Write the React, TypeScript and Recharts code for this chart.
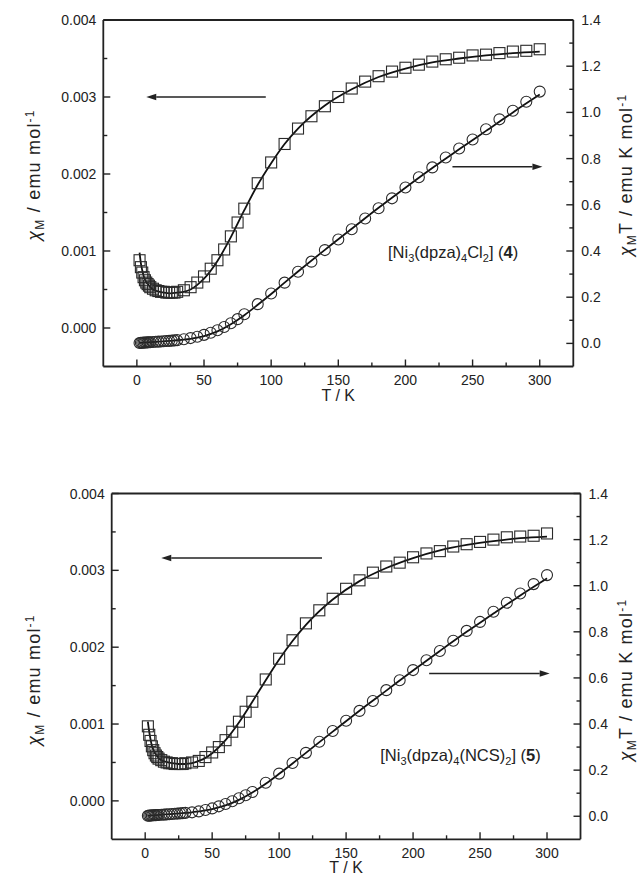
import React from "react";
import {
  ComposedChart,
  Scatter,
  Line,
  XAxis,
  YAxis,
  ReferenceLine,
  ReferenceDot,
  Label,
} from "recharts";

// measured temperatures (K)
const temps = [
  2, 3, 4, 5, 6, 7, 8, 9, 10, 12, 14, 16, 18, 20, 22, 24, 26, 28, 30,
  35, 40, 45, 50, 55, 60, 65, 70, 75, 80,
  90, 100, 110, 120, 130, 140, 150, 160, 170, 180, 190, 200, 210, 220, 230, 240, 250, 260, 270, 280, 290, 300,
];

// compound 4
const chi4 = [
  0.00088, 0.00079, 0.00072, 0.00066, 0.00062, 0.00059, 0.00057, 0.00055, 0.00053, 0.00051, 0.00049, 0.00048, 0.00047, 0.00047, 0.00046, 0.00046, 0.00046, 0.00046, 0.00047,
  0.00049, 0.00053, 0.00059, 0.00067, 0.00077, 0.00088, 0.00102, 0.00119, 0.00137, 0.00155,
  0.00188, 0.00215, 0.00239, 0.00259, 0.00275, 0.00288, 0.003, 0.00311, 0.0032, 0.00327, 0.00333, 0.00338, 0.00342, 0.00346, 0.00349, 0.00351, 0.00354, 0.00355, 0.00357, 0.00359, 0.0036, 0.00362,
];
const chiT4 = [
  0.0018, 0.0024, 0.0029, 0.0033, 0.0037, 0.0041, 0.0046, 0.005, 0.0053, 0.0061, 0.0069, 0.0077, 0.0085, 0.0094, 0.0101, 0.011, 0.012, 0.0129, 0.014,
  0.018, 0.023, 0.029, 0.037, 0.046, 0.057, 0.071, 0.087, 0.105, 0.126,
  0.17, 0.216, 0.263, 0.31, 0.354, 0.404, 0.45, 0.494, 0.541, 0.585, 0.628, 0.675, 0.719, 0.762, 0.805, 0.844, 0.883, 0.927, 0.97, 1.007, 1.046, 1.09,
];

// compound 5
const chi5 = [
  0.00097, 0.00086, 0.00078, 0.00071, 0.00066, 0.00062, 0.00059, 0.00057, 0.00055, 0.00053, 0.00051, 0.0005, 0.00049, 0.00049, 0.00048, 0.00048, 0.00048, 0.00048, 0.00049,
  0.0005, 0.00052, 0.00057, 0.00063, 0.0007, 0.00079, 0.0009, 0.00103, 0.00116, 0.00129,
  0.00158, 0.00185, 0.00209, 0.00231, 0.00248, 0.00263, 0.00276, 0.00287, 0.00297, 0.00305, 0.0031, 0.00317, 0.00322, 0.00325, 0.00331, 0.00334, 0.00337, 0.0034, 0.00343, 0.00344, 0.00345, 0.00348,
];
const chiT5 = [
  0.0019, 0.0026, 0.0031, 0.0036, 0.004, 0.0043, 0.0047, 0.0051, 0.0055, 0.0064, 0.0071, 0.008, 0.0088, 0.0098, 0.0106, 0.0115, 0.0125, 0.0134, 0.0147,
  0.017, 0.021, 0.027, 0.034, 0.043, 0.053, 0.065, 0.078, 0.091, 0.105,
  0.145, 0.185, 0.231, 0.275, 0.323, 0.37, 0.414, 0.457, 0.5, 0.547, 0.59, 0.634, 0.677, 0.717, 0.761, 0.804, 0.843, 0.887, 0.926, 0.966, 1.007, 1.046,
];

// fitted curves
const fitTemps = [2, 3, 4, 5, 6, 8, 10, 12, 15, 20, 25, 30, 35, 40, 45, 50, 60, 70, 80, 90, 100, 110, 120, 140, 160, 180, 200, 220, 240, 260, 280, 300];
const chiFit4 = [
  0.00098, 0.00084, 0.00075, 0.00068, 0.00063, 0.00057, 0.00053, 0.0005, 0.00048, 0.00046, 0.00045, 0.00046, 0.00047, 0.0005, 0.00056, 0.00064,
  0.00087, 0.00118, 0.00153, 0.00186, 0.00214, 0.00239, 0.00259, 0.00289, 0.0031, 0.00326, 0.00337, 0.00345, 0.0035, 0.00354, 0.00357, 0.00359,
];
const chiTFit4 = [
  0.0019, 0.0025, 0.003, 0.0034, 0.0038, 0.0046, 0.0053, 0.006, 0.0072, 0.0092, 0.0113, 0.0138, 0.0165, 0.02, 0.025, 0.032,
  0.052, 0.083, 0.122, 0.167, 0.214, 0.263, 0.311, 0.405, 0.496, 0.587, 0.674, 0.759, 0.84, 0.92, 1.0, 1.077,
];
const chiFit5 = [
  0.00103, 0.0009, 0.0008, 0.00072, 0.00067, 0.0006, 0.00056, 0.00053, 0.00051, 0.00049, 0.00048, 0.00048, 0.00049, 0.00052, 0.00056, 0.00062,
  0.00079, 0.00102, 0.00129, 0.00157, 0.00184, 0.00208, 0.00229, 0.00262, 0.00286, 0.00303, 0.00316, 0.00326, 0.00333, 0.00338, 0.00342, 0.00344,
];
const chiTFit5 = [
  0.0021, 0.0027, 0.0032, 0.0036, 0.004, 0.0048, 0.0056, 0.0064, 0.0077, 0.0098, 0.012, 0.0144, 0.017, 0.021, 0.025, 0.031,
  0.047, 0.071, 0.103, 0.141, 0.184, 0.229, 0.275, 0.367, 0.458, 0.545, 0.632, 0.717, 0.8, 0.879, 0.958, 1.032,
];

const tTicks = [0, 25, 50, 75, 100, 125, 150, 175, 200, 225, 250, 275, 300];
const chiTicks = [0, 0.0005, 0.001, 0.0015, 0.002, 0.0025, 0.003, 0.0035, 0.004];
const chiTTicks = [0, 0.1, 0.2, 0.3, 0.4, 0.5, 0.6, 0.7, 0.8, 0.9, 1.0, 1.1, 1.2, 1.3, 1.4];

// rich text pieces (sub = subscript, sup = superscript)
type Seg = { t: string; sub?: boolean; sup?: boolean; it?: boolean; b?: boolean };
const leftTitle: Seg[] = [{ t: "χ", it: true }, { t: "M", sub: true }, { t: " / emu mol" }, { t: "-1", sup: true }];
const rightTitle: Seg[] = [{ t: "χ", it: true }, { t: "M", sub: true }, { t: "T / emu K mol" }, { t: "-1", sup: true }];
const note4: Seg[] = [
  { t: "[Ni" }, { t: "3", sub: true }, { t: "(dpza)" }, { t: "4", sub: true }, { t: "Cl" }, { t: "2", sub: true },
  { t: "] (" }, { t: "4", b: true }, { t: ")" },
];
const note5: Seg[] = [
  { t: "[Ni" }, { t: "3", sub: true }, { t: "(dpza)" }, { t: "4", sub: true }, { t: "(NCS)" }, { t: "2", sub: true },
  { t: "] (" }, { t: "5", b: true }, { t: ")" },
];

const FONT = "'Liberation Sans', Arial, Helvetica, sans-serif";
const INK = "#222";

type Pt = { T: number; v: number };
const zip = (ts: number[], vs: number[]): Pt[] => ts.map((T, i) => ({ T, v: vs[i] }));

const near = (a: number) => Math.abs(a - Math.round(a)) < 1e-6;
const majorT = (v: number) => v % 50 === 0;
const majorChi = (v: number) => near(v * 1000);
const majorChiT = (v: number) => near(v * 5);

function rich(segs: Seg[], small: number) {
  let shift = 0;
  return segs.map((s, i) => {
    const target = s.sub ? 4 : s.sup ? -6 : 0;
    const dy = target - shift;
    shift = target;
    return (
      <tspan
        key={i}
        dy={dy || undefined}
        fontSize={s.sub || s.sup ? small : undefined}
        fontStyle={s.it ? "italic" : undefined}
        fontWeight={s.b ? "bold" : undefined}
      >
        {s.t}
      </tspan>
    );
  });
}

function makeTick(side: string, isMajor: (v: number) => boolean, fmt: (v: number) => string) {
  return (props: any) => {
    const { x, y, payload } = props;
    const v = payload.value;
    const major = isMajor(v);
    const len = major ? 7 : 4;
    const ls = { stroke: INK, strokeWidth: 1.4 };
    const ts = { fontFamily: FONT, fontSize: 14, fill: INK };
    if (side === "bottom")
      return (
        <g>
          <line x1={x} x2={x} y1={y} y2={y - len} {...ls} />
          {major && <text x={x} y={y + 18.5} textAnchor="middle" {...ts}>{fmt(v)}</text>}
        </g>
      );
    if (side === "top") return <line x1={x} x2={x} y1={y} y2={y + len} {...ls} />;
    if (side === "left")
      return (
        <g>
          <line x1={x} x2={x + len} y1={y} y2={y} {...ls} />
          {major && <text x={x - 7} y={y + 5} textAnchor="end" {...ts}>{fmt(v)}</text>}
        </g>
      );
    return (
      <g>
        <line x1={x} x2={x - len} y1={y} y2={y} {...ls} />
        {major && <text x={x + 8} y={y + 5} textAnchor="start" {...ts}>{fmt(v)}</text>}
      </g>
    );
  };
}

const Square = (p: any) => (
  <rect x={p.cx - 5.5} y={p.cy - 5.5} width={11} height={11} fill="none" stroke="#2a2a2a" strokeWidth={1.1} />
);
const Ring = (p: any) => <circle cx={p.cx} cy={p.cy} r={5.5} fill="none" stroke="#2a2a2a" strokeWidth={1.1} />;

const Arrow = (p: any) => {
  const { x1, y1, x2, y2 } = p;
  const a = Math.atan2(y2 - y1, x2 - x1);
  const L = 10;
  const W = 3.2;
  const bx = x2 - L * Math.cos(a);
  const by = y2 - L * Math.sin(a);
  const nx = -Math.sin(a) * W;
  const ny = Math.cos(a) * W;
  return (
    <g>
      <line x1={x1} y1={y1} x2={bx} y2={by} stroke={INK} strokeWidth={1.4} />
      <polygon points={`${x2},${y2} ${bx + nx},${by + ny} ${bx - nx},${by - ny}`} fill={INK} />
    </g>
  );
};

const yTitle = (segs: Seg[], x: number, cy: number) => (
  <text
    x={x}
    y={cy}
    transform={`rotate(-90 ${x} ${cy})`}
    textAnchor="middle"
    fontFamily={FONT}
    fontSize={18}
    letterSpacing={1.2}
    fill={INK}
  >
    {rich(segs, 12)}
  </text>
);

interface PanelProps {
  chi: number[];
  chiT: number[];
  chiFit: number[];
  chiTFit: number[];
  margin: { top: number; right: number; bottom: number; left: number };
  titleY: number;
  leftArrow: [number, number, number];
  rightArrow: [number, number, number];
  note: { x: number; y: number; segs: Seg[] };
}

function Panel({ chi, chiT, chiFit, chiTFit, margin, titleY, leftArrow, rightArrow, note }: PanelProps) {
  const axisLine = { stroke: INK, strokeWidth: 1.8 };
  return (
    <ComposedChart width={640} height={440} margin={margin}>
      <XAxis
        xAxisId="b"
        dataKey="T"
        type="number"
        domain={[-25, 325]}
        allowDataOverflow
        ticks={tTicks}
        interval={0}
        tickLine={false}
        tickSize={0}
        tickMargin={0}
        tick={makeTick("bottom", majorT, (v) => String(v))}
        axisLine={axisLine}
        height={30}
      >
        <Label
          content={(p: any) => (
            <text
              x={p.viewBox.x + p.viewBox.width / 2}
              y={p.viewBox.y + 34}
              textAnchor="middle"
              fontFamily={FONT}
              fontSize={16}
              fill={INK}
            >
              T / K
            </text>
          )}
        />
      </XAxis>
      <XAxis
        xAxisId="t"
        orientation="top"
        type="number"
        domain={[-25, 325]}
        allowDataOverflow
        ticks={tTicks}
        interval={0}
        tickLine={false}
        tickSize={0}
        tickMargin={0}
        tick={makeTick("top", majorT, (v) => String(v))}
        axisLine={axisLine}
        height={10}
      />
      <YAxis
        yAxisId="l"
        type="number"
        domain={[-0.0005, 0.004]}
        allowDataOverflow
        ticks={chiTicks}
        interval={0}
        tickLine={false}
        tickSize={0}
        tickMargin={0}
        tick={makeTick("left", majorChi, (v) => v.toFixed(3))}
        axisLine={axisLine}
        width={60}
      >
        <Label content={() => yTitle(leftTitle, 40, titleY)} />
      </YAxis>
      <YAxis
        yAxisId="r"
        orientation="right"
        type="number"
        domain={[-0.1, 1.4]}
        allowDataOverflow
        ticks={chiTTicks}
        interval={0}
        tickLine={false}
        tickSize={0}
        tickMargin={0}
        tick={makeTick("right", majorChiT, (v) => v.toFixed(1))}
        axisLine={axisLine}
        width={50}
      >
        <Label content={() => yTitle(rightTitle, 632, titleY)} />
      </YAxis>

      <Scatter xAxisId="b" yAxisId="l" data={zip(temps, chi)} dataKey="v" shape={Square} isAnimationActive={false} />
      <Scatter xAxisId="b" yAxisId="r" data={zip(temps, chiT)} dataKey="v" shape={Ring} isAnimationActive={false} />
      <Line
        xAxisId="b"
        yAxisId="l"
        data={zip(fitTemps, chiFit)}
        dataKey="v"
        type="monotone"
        dot={false}
        activeDot={false}
        stroke="#111"
        strokeWidth={1.8}
        isAnimationActive={false}
      />
      <Line
        xAxisId="b"
        yAxisId="r"
        data={zip(fitTemps, chiTFit)}
        dataKey="v"
        type="monotone"
        dot={false}
        activeDot={false}
        stroke="#111"
        strokeWidth={1.8}
        isAnimationActive={false}
      />

      <ReferenceLine
        xAxisId="b"
        yAxisId="l"
        segment={[
          { x: leftArrow[0], y: leftArrow[2] },
          { x: leftArrow[1], y: leftArrow[2] },
        ]}
        shape={Arrow}
      />
      <ReferenceLine
        xAxisId="b"
        yAxisId="r"
        segment={[
          { x: rightArrow[0], y: rightArrow[2] },
          { x: rightArrow[1], y: rightArrow[2] },
        ]}
        shape={Arrow}
      />
      <ReferenceDot
        xAxisId="b"
        yAxisId="l"
        x={note.x}
        y={note.y}
        r={0}
        shape={(p: any) => (
          <text x={p.cx} y={p.cy} fontFamily={FONT} fontSize={16.5} fill={INK}>
            {rich(note.segs, 11)}
          </text>
        )}
      />
    </ComposedChart>
  );
}

export default function App() {
  return (
    <div style={{ position: "absolute", left: 0, top: 0, width: 640, height: 880, background: "#fff" }}>
      <div style={{ position: "absolute", left: 0, top: 0 }}>
        <Panel
          chi={chi4}
          chiT={chiT4}
          chiFit={chiFit4}
          chiTFit={chiTFit4}
          margin={{ top: 10, right: 16.7, bottom: 43.5, left: 43.3 }}
          titleY={175}
          leftArrow={[96, 7, 0.003]}
          rightArrow={[235, 302, 0.765]}
          note={{ x: 187, y: 0.00091, segs: note4 }}
        />
      </div>
      <div style={{ position: "absolute", left: 0, top: 440 }}>
        <Panel
          chi={chi5}
          chiT={chiT5}
          chiFit={chiFit5}
          chiTFit={chiTFit5}
          margin={{ top: 43.5, right: 9.5, bottom: 10.7, left: 51.7 }}
          titleY={240}
          leftArrow={[132, 12, 0.00316]}
          rightArrow={[212, 302, 0.619]}
          note={{ x: 175.5, y: 0.00052, segs: note5 }}
        />
      </div>
    </div>
  );
}
